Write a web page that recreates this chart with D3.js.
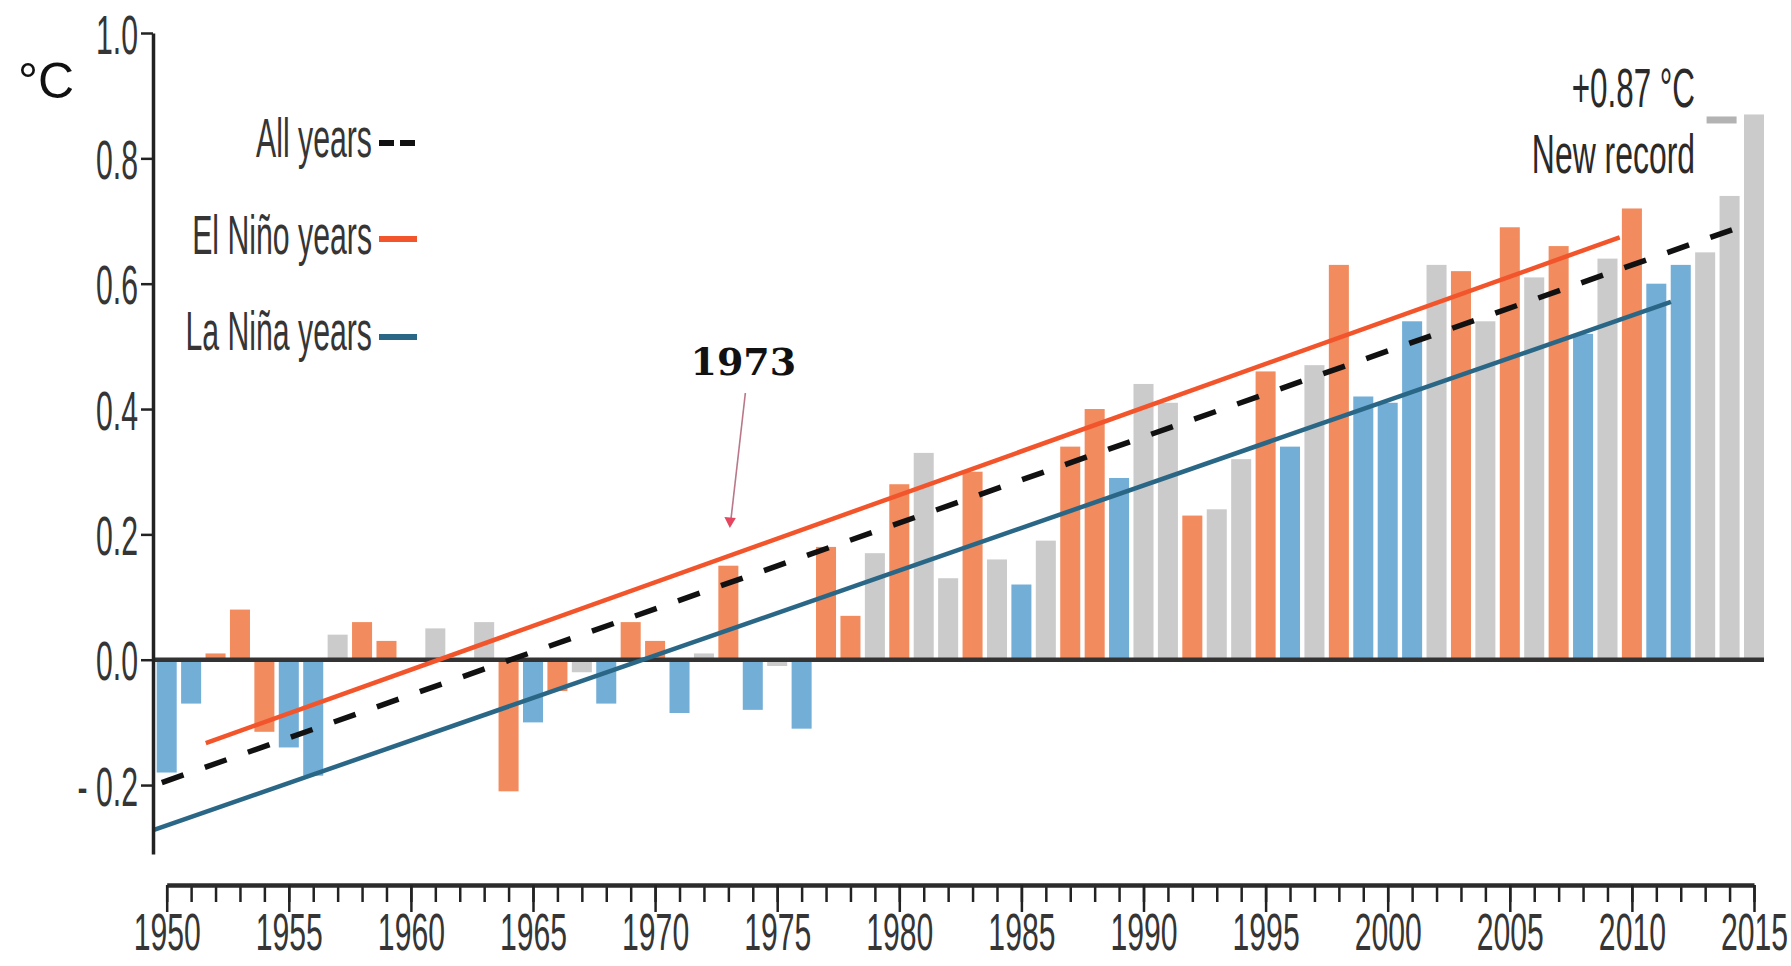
<!DOCTYPE html>
<html><head><meta charset="utf-8">
<script src="https://cdn.jsdelivr.net/npm/d3@7"></script>
<style>html,body{margin:0;padding:0;background:#fff;} svg{display:block;}</style>
</head><body>
<svg id="chart" width="1791" height="966"></svg>
<script>
// ---------------- data ----------------
const years = [1950,1951,1952,1953,1954,1955,1956,1957,1958,1959,
  1960,1961,1962,1963,1964,1965,1966,1967,1968,1969,
  1970,1971,1972,1973,1974,1975,1976,1977,1978,1979,
  1980,1981,1982,1983,1984,1985,1986,1987,1988,1989,
  1990,1991,1992,1993,1994,1995,1996,1997,1998,1999,
  2000,2001,2002,2003,2004,2005,2006,2007,2008,2009,
  2010,2011,2012,2013,2014,2015];
const anomalies = [-0.18,-0.07,0.01,0.08,-0.115,-0.14,-0.185,0.04,0.06,0.03,
  0.00,0.05,0.00,0.06,-0.21,-0.10,-0.05,-0.02,-0.07,0.06,
  0.03,-0.085,0.01,0.15,-0.08,-0.01,-0.11,0.18,0.07,0.17,
  0.28,0.33,0.13,0.30,0.16,0.12,0.19,0.34,0.40,0.29,
  0.44,0.41,0.23,0.24,0.32,0.46,0.34,0.47,0.63,0.42,
  0.41,0.54,0.63,0.62,0.54,0.69,0.61,0.66,0.52,0.64,
  0.72,0.60,0.63,0.65,0.74,0.87];
// E = El Niño year, L = La Niña year, N = neutral
const phases = ["L","L","E","E","E","L","L","N","E","E",
  "N","N","N","N","E","L","E","N","L","E",
  "E","L","N","E","L","N","L","E","E","N",
  "E","N","N","E","N","L","N","E","E","L",
  "N","N","E","N","N","E","L","N","E","L",
  "L","L","N","E","N","E","N","E","L","N",
  "E","L","L","N","N","N"];
const trendAll    = [[1949.8, -0.196], [2014.1, 0.686]];
const trendElNino = [[1951.6, -0.133], [2009.5, 0.674]];
const trendLaNina = [[1949.45, -0.272], [2011.6, 0.571]];
const yTicks = [1.0, 0.8, 0.6, 0.4, 0.2, 0.0, -0.2];
const yTickLabels = ["1.0","0.8","0.6","0.4","0.2","0.0","- 0.2"];
const xMajorTicks = [1950,1955,1960,1965,1970,1975,1980,1985,1990,1995,2000,2005,2010,2015];
const legendLabels = ["All years","El Niño years","La Niña years"];
const unitLabel = "°C";
const recordLabel = ["+0.87 °C","New record"];
const recordValue = 0.87;
const markedYear = 1973;

// ---------------- setup ----------------
const svg = d3.select("#chart");
const x = d3.scaleLinear().domain([1950, 2015]).range([166.7, 1754]);
const y = d3.scaleLinear().domain([-0.31, 1.0]).range([854, 33]);
const colors = {E:"#f28b5d", L:"#73aed7", N:"#cbcbcb"};
const bw = (x(1951) - x(1950)) * 0.82;
const SX = 0.54;
const FONT = "'Liberation Sans', Arial, sans-serif";
const TXT = "#353535";

function condensed(g, str, opts) {
  return g.append("text")
    .attr("font-family", FONT).attr("font-size", opts.size || 56)
    .attr("fill", opts.fill || TXT)
    .attr("text-anchor", opts.anchor || "start")
    .attr("transform", `scale(${opts.sx || SX},1)`)
    .text(str);
}

// bars
svg.append("g").selectAll("rect").data(years).join("rect")
  .attr("x", d => x(d) - bw / 2)
  .attr("width", bw)
  .attr("y", (d, i) => y(Math.max(0, anomalies[i])))
  .attr("height", (d, i) => Math.abs(y(anomalies[i]) - y(0)))
  .attr("fill", (d, i) => colors[phases[i]]);

// record marker
svg.append("rect")
  .attr("x", x(2014) - 23).attr("width", 30)
  .attr("y", y(recordValue) + 2).attr("height", 7)
  .attr("fill", "#b3b3b3");

// zero line
svg.append("line")
  .attr("x1", 153).attr("x2", x(2015) + bw / 2)
  .attr("y1", y(0)).attr("y2", y(0))
  .attr("stroke", "#333").attr("stroke-width", 4.5);

// trend lines
const line = d3.line().x(d => x(d[0])).y(d => y(d[1]));
svg.append("path").attr("d", line(trendLaNina)).attr("fill", "none")
  .attr("stroke", "#2a6786").attr("stroke-width", 4.5);
svg.append("path").attr("d", line(trendElNino)).attr("fill", "none")
  .attr("stroke", "#f2552b").attr("stroke-width", 4.5);
const allPath = svg.append("path").attr("d", line(trendAll)).attr("fill", "none")
  .attr("stroke", "#111").attr("stroke-width", 5.5);
const L = allPath.node().getTotalLength();
const dashLen = 23;
const period = (L - dashLen) / 36;
allPath.attr("stroke-dasharray", `${dashLen},${period - dashLen}`);

// y axis
const gy = svg.append("g").attr("transform", "translate(153,0)")
  .call(d3.axisLeft(y).tickValues(yTicks).tickSize(12).tickSizeOuter(0)
    .tickFormat((d, i) => yTickLabels[i]));
gy.select(".domain").attr("stroke", "#222").attr("stroke-width", 3.5);
gy.selectAll(".tick line").attr("stroke", "#222").attr("stroke-width", 2.5);
gy.selectAll(".tick text")
  .attr("font-family", FONT).attr("font-size", 56).attr("fill", TXT)
  .attr("x", -15 / SX).attr("dy", "0.36em")
  .attr("transform", `scale(${SX},1)`);

// x axis (minor + major)
const gxMinor = svg.append("g").attr("transform", "translate(0,885)")
  .call(d3.axisBottom(x).tickValues(years).tickSize(17).tickSizeOuter(0).tickFormat(""));
gxMinor.select(".domain").remove();
gxMinor.selectAll(".tick line").attr("stroke", "#222").attr("stroke-width", 2.5);
const gx = svg.append("g").attr("transform", "translate(0,885)")
  .call(d3.axisBottom(x).tickValues(xMajorTicks).tickSize(27).tickSizeOuter(0).tickFormat(d3.format("d")));
gx.select(".domain").attr("stroke", "#2b2b2b").attr("stroke-width", 4.5);
gx.selectAll(".tick line").attr("stroke", "#222").attr("stroke-width", 2.5);
gx.selectAll(".tick text")
  .attr("font-family", FONT).attr("font-size", 52).attr("fill", TXT)
  .attr("y", 65).attr("dy", 0)
  .attr("transform", `scale(0.58,1)`);

// unit label
svg.append("text").attr("x", 18).attr("y", 98)
  .attr("font-family", FONT).attr("font-size", 50).attr("fill", "#111")
  .text(unitLabel);

// legend
const legendY = [157, 254, 350];
legendLabels.forEach((lab, i) => {
  const g = svg.append("g").attr("transform", `translate(372,${legendY[i]})`);
  condensed(g, lab, {anchor: "end"});
});
svg.append("line").attr("x1", 379).attr("x2", 416)
  .attr("y1", legendY[0] - 14).attr("y2", legendY[0] - 14)
  .attr("stroke", "#111").attr("stroke-width", 6).attr("stroke-dasharray", "15,6");
svg.append("line").attr("x1", 379).attr("x2", 417)
  .attr("y1", legendY[1] - 15).attr("y2", legendY[1] - 15)
  .attr("stroke", "#f2552b").attr("stroke-width", 6);
svg.append("line").attr("x1", 379).attr("x2", 417)
  .attr("y1", legendY[2] - 13).attr("y2", legendY[2] - 13)
  .attr("stroke", "#2a6786").attr("stroke-width", 6);

// record annotation
const ga = svg.append("g").attr("transform", "translate(1695,107)");
condensed(ga, recordLabel[0], {anchor: "end", sx: 0.56, fill: "#2a2a2a"});
const gb = svg.append("g").attr("transform", "translate(1695,173)");
condensed(gb, recordLabel[1], {anchor: "end", sx: 0.57, fill: "#2a2a2a"});

// 1973 annotation
svg.append("text").attr("x", x(markedYear) + 15).attr("y", 375)
  .attr("text-anchor", "middle")
  .attr("font-family", "'DejaVu Serif', 'Liberation Serif', serif")
  .attr("font-weight", "bold").attr("font-size", 38).attr("fill", "#111")
  .text(String(markedYear));
const tipX = x(markedYear) + 1.5, tipY = y(0.21);
svg.append("line").attr("x1", x(markedYear) + 17).attr("y1", 393)
  .attr("x2", tipX + 1).attr("y2", tipY - 8)
  .attr("stroke", "#b97888").attr("stroke-width", 1.6);
svg.append("path")
  .attr("d", `M${tipX},${tipY} L${tipX - 5.5},${tipY - 11} L${tipX + 6},${tipY - 10} Z`)
  .attr("fill", "#e5465f");
</script>
</body></html>
